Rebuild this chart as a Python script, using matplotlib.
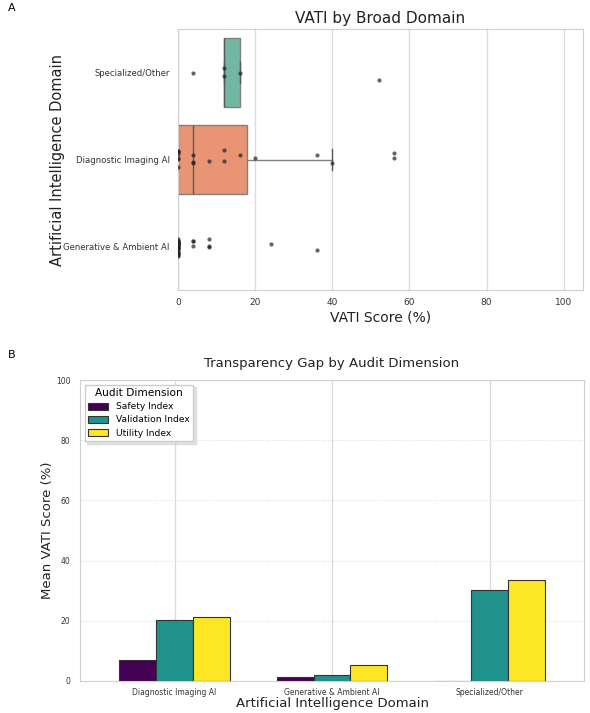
import matplotlib
matplotlib.use("Agg")
import matplotlib.pyplot as plt
import numpy as np

# panel A data: VATI scores per domain (top to bottom)
domains_a = ["Specialized/Other", "Diagnostic Imaging AI", "Generative & Ambient AI"]
vati_specialized = [4, 12, 12, 16, 52]
vati_diagnostic = [0, 0, 0, 0, 0, 0, 0, 4, 4, 4, 8, 12, 12, 16, 20, 36, 40, 56, 56]
vati_generative = [0] * 25 + [4, 4, 4, 8, 8, 8, 24, 36]
box_colors = ["#71b7a1", "#e99575", "#95a0c4"]

# panel B data: mean index score per domain
domains_b = ["Diagnostic Imaging AI", "Generative & Ambient AI", "Specialized/Other"]
dimensions = ["Safety Index", "Validation Index", "Utility Index"]
safety = [7.1, 1.2, 0.0]
validation = [20.2, 1.9, 30.1]
utility = [21.1, 5.4, 33.4]
bar_colors = ["#440154", "#21918c", "#fde725"]

plt.rcParams["font.family"] = "DejaVu Sans"
fig = plt.figure(figsize=(5.9, 7.13), dpi=100)

grid_c = "#dcdcdc"
spine_c = "#d0d0d0"

# ---------- panel A ----------
ax = fig.add_axes([178/590, 1 - 290/713, 405/590, 261/713])
data_a = [vati_specialized, vati_diagnostic, vati_generative]
pos = np.arange(len(domains_a))
bp = ax.boxplot(data_a, positions=pos, vert=False, widths=0.8, patch_artist=True,
                showfliers=False, whis=1.5, capwidths=0.25,
                medianprops=dict(color="#5a5a5a", linewidth=1),
                whiskerprops=dict(color="#808080", linewidth=1),
                capprops=dict(color="#5a5a5a", linewidth=1),
                boxprops=dict(edgecolor="#808080", linewidth=1))
for i, (patch, c) in enumerate(zip(bp["boxes"], box_colors)):
    patch.set_facecolor(c)
    patch.set_zorder(2)
    # a box with no spread leaves no visible outline in the original
    if np.percentile(data_a[i], 75) == np.percentile(data_a[i], 25):
        patch.set_visible(False)
        bp["medians"][i].set_visible(False)
        for ln in bp["caps"][2*i:2*i+2] + bp["whiskers"][2*i:2*i+2]:
            ln.set_visible(False)

np.random.seed(3)
for i, vals in enumerate(data_a):
    y = i + np.random.uniform(-0.11, 0.11, len(vals))
    ax.scatter(vals, y, s=9, color="#222222", alpha=0.7, zorder=3, linewidths=0)

ax.set_xlim(0, 105)
ax.set_ylim(2.5, -0.5)
ax.set_yticks(pos)
ax.set_yticklabels(domains_a, fontsize=6.1, color="#333333")
ax.set_xticks([0, 20, 40, 60, 80, 100])
ax.tick_params(axis="x", labelsize=6.5, colors="#333333", length=0, pad=6)
ax.tick_params(axis="y", length=0, pad=6)
ax.grid(axis="x", color=grid_c, linewidth=1)
ax.set_axisbelow(True)
for s in ax.spines.values():
    s.set_color(spine_c)
ax.set_title("VATI by Broad Domain", fontsize=11, color="#222222", pad=4)
ax.set_xlabel("VATI Score (%)", fontsize=10, color="#222222", labelpad=2)
ax.set_ylabel("Artificial Intelligence Domain", fontsize=10.5, color="#222222", labelpad=-1)

# ---------- panel B ----------
bx = fig.add_axes([80/590, 1 - 681/713, 504/590, 301/713])
w = 0.7 / 3
xb = np.arange(len(domains_b))
for k, (vals, c, lab) in enumerate(zip([safety, validation, utility], bar_colors, dimensions)):
    bx.bar(xb + (k - 1) * w, vals, width=w, color=c, edgecolor="#333333",
           linewidth=0.8, label=lab, zorder=2)

bx.set_xlim(-0.6, 2.6)
bx.set_ylim(0, 100)
bx.set_xticks(xb)
bx.set_xticklabels(domains_b, fontsize=5.5, color="#333333")
bx.set_yticks([0, 20, 40, 60, 80, 100])
bx.tick_params(axis="y", labelsize=5.5, colors="#333333", length=0, pad=7)
bx.tick_params(axis="x", length=0, pad=5)
bx.grid(axis="x", color=grid_c, linewidth=1)
bx.grid(axis="y", color=grid_c, linewidth=0.8, linestyle=":")
bx.set_axisbelow(True)
for s in bx.spines.values():
    s.set_color(spine_c)
bx.set_title("Transparency Gap by Audit Dimension", fontsize=9.5, color="#222222", pad=9)
bx.set_xlabel("Artificial Intelligence Domain", fontsize=9.5, color="#222222", labelpad=0)
bx.set_ylabel("Mean VATI Score (%)", fontsize=9.5, color="#222222", labelpad=1)
leg = bx.legend(title="Audit Dimension", loc="upper left", fontsize=6.6, title_fontsize=7.6,
                frameon=True, shadow={"color": "#c8c8c8", "alpha": 0.5}, fancybox=False,
                borderaxespad=0.5, handlelength=2.1, handleheight=0.8, labelspacing=0.45,
                borderpad=0.4, handletextpad=0.9)
leg.get_frame().set_edgecolor("#cccccc")

fig.text(8/590, 1 - 8/713, "A", fontsize=8, va="center", ha="left")
fig.text(8/590, 1 - 355/713, "B", fontsize=8, va="center", ha="left")

fig.savefig("out.png", dpi=100)
